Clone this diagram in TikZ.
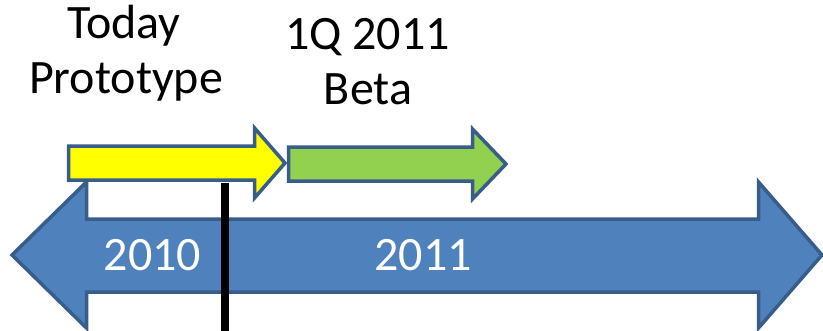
\documentclass[tikz,border=0pt]{standalone}
\usepackage{fontspec}
\setmainfont{Carlito}
\definecolor{barblue}{HTML}{4F81BD}
\definecolor{edgeblue}{HTML}{385D8A}
\definecolor{phaseyellow}{HTML}{FFFF00}
\definecolor{phasegreen}{HTML}{92D050}
\tikzset{
  shapeedge/.style={draw=edgeblue, line width=3.5pt, line join=miter},
  label/.style={font=\fontsize{48}{55}\selectfont, inner sep=0pt, anchor=base},
  yearlabel/.style={label, text=white}
}
\begin{document}
\begin{tikzpicture}[x=1pt, y=-1pt]
  \useasboundingbox (0,0) rectangle (823,330);
  \clip (0,0) rectangle (823,330);

  % timeline: double-headed block arrow
  \fill[white] (0,0) rectangle (823,330);
  \path[shapeedge, fill=barblue]
    (12,255) -- (86.5,182) -- (86.5,219) -- (758.5,219) -- (758.5,182)
    -- (822,255) -- (758.5,328) -- (758.5,292) -- (86.5,292) -- (86.5,328) -- cycle;

  % phase arrows
  \path[shapeedge, fill=phaseyellow]
    (68.5,146) -- (254.5,146) -- (254.5,128) -- (285,163)
    -- (254.5,198) -- (254.5,180) -- (68.5,180) -- cycle;
  \path[shapeedge, fill=phasegreen]
    (288.5,147) -- (472.5,147) -- (472.5,129) -- (506,164)
    -- (472.5,199) -- (472.5,181) -- (288.5,181) -- cycle;

  % "today" marker
  \coordinate (marktop) at (225,183);
  \coordinate (markbot) at (225,332);
  \draw[black, line width=8pt] (marktop) -- (markbot);

  % labels
  \node[yearlabel] (y2010) at (152.5,270) {2010};
  \node[yearlabel] (y2011) at (423,270) {2011};
  \node[label] (today) at (124,38) {Today};
  \node[label] (proto) at (126,93) {Prototype};
  \node[label] (quarter) at (367.5,49) {1Q 2011};
  \node[label] (beta) at (368,104) {Beta};
\end{tikzpicture}
\end{document}
